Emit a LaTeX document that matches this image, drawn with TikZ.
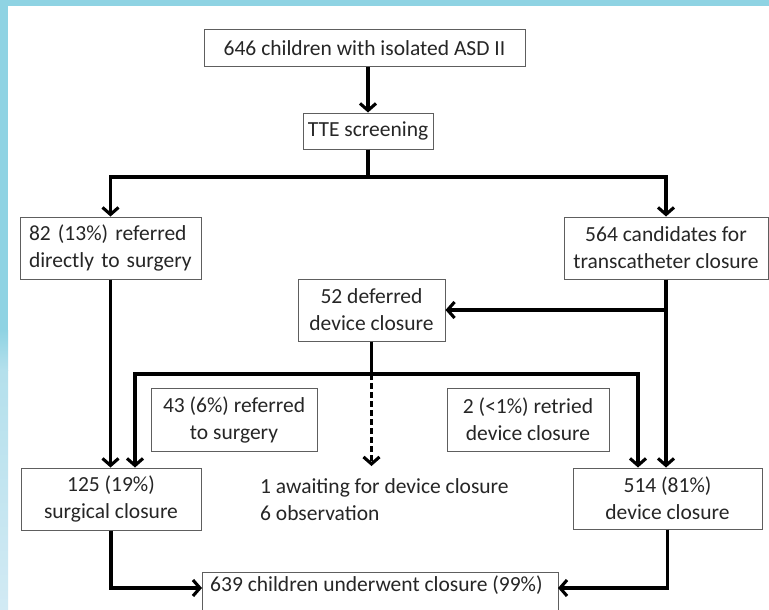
\documentclass[tikz,border=0pt]{standalone}
\usepackage{fontspec}
\setmainfont{Carlito}
\usetikzlibrary{arrows.meta}
\definecolor{cyanA}{HTML}{8FD3E3}
\definecolor{cyanM}{HTML}{B4E0EC}
\definecolor{cyanB}{HTML}{D2EAF4}
\definecolor{boxc}{HTML}{5E5E5E}
\definecolor{txt}{HTML}{262626}
\newcommand\dgfont{\fontsize{21.5}{27}\selectfont}
\begin{document}
\begin{tikzpicture}[x=1pt,y=-1pt,
  box/.style={draw=boxc, line width=1pt, inner sep=0pt, text=txt, align=center, font=\dgfont},
  plain/.style={inner sep=0pt, text=txt, font=\dgfont},
  ln/.style={line width=3.1pt, black},
  arr/.style={ln, -{Straight Barb[length=7pt,width=16pt]}}]
\useasboundingbox (0,0) rectangle (769,610);
% background
\fill[white] (0,0) rectangle (769,610);
\fill[cyanA] (0,0) rectangle (769,6);
\fill[cyanA] (0,0) rectangle (8,330);
\shade[top color=cyanA, bottom color=cyanM] (0,330) rectangle (8,370);
\shade[top color=cyanM, bottom color=cyanB] (0,370) rectangle (8,610);
% nodes
\node[box, minimum width=321, minimum height=37] (start) at (364.5,48.5) {646 children with isolated ASD II};
\node[box, minimum width=130, minimum height=36] (tte) at (368,131) {TTE screening};
\node[box, minimum width=181, minimum height=62, text width=163, align=left] (refd) at (110.5,248) {82 (13\%) referred\\directly to surgery};
\node[box, minimum width=204, minimum height=62] (cand) at (666,248) {564 candidates for\\transcatheter closure};
\node[box, minimum width=147, minimum height=62] (def) at (371.5,310) {52 deferred\\device closure};
\node[box, minimum width=166, minimum height=63] (ref43) at (234,419.5) {43 (6\%) referred\\to surgery};
\node[box, minimum width=162, minimum height=63] (ret) at (528,419.5) {2 (<1\%) retried\\device closure};
\node[box, minimum width=180, minimum height=62] (surg) at (111,499) {125 (19\%)\\surgical closure};
\node[box, minimum width=189, minimum height=61] (dev) at (667.5,498.5) {514 (81\%)\\device closure};
\node[plain, align=left, anchor=west] (await) at (260,500) {1 awaiting for device closure\\6 observation};
\node[plain, anchor=west] (total) at (210,585) {639 children underwent closure (99\%)};
\draw[draw=boxc, line width=1pt] (202,612) -- (202,572) -- (558,572) -- (558,612);
\coordinate (tl) at (202,588);
\coordinate (tr) at (558,588);
% connectors
\coordinate (split) at (tte.south |- 0,177);
\draw[arr] (start.south -| tte.north) -- (tte.north);
\draw[ln] (tte.south) -- (split);
\draw[arr] (split) -| (refd.north);
\draw[arr] (split) -| (cand.north);
\draw[arr] (cand.south) -- (cand.south |- dev.north);
\draw[arr] (cand.south |- def.east) -- (def.east);
\draw[arr] (refd.south) -- (refd.south |- surg.north);
\coordinate (j) at (def.south |- 0,374);
\draw[ln] (def.south) -- (j);
\draw[arr, dash pattern=on 6pt off 3pt] (j) -- (j |- 0,466);
\draw[arr] (j) -| ([xshift=24pt]surg.north);
\draw[arr] (j) -| ([xshift=-29.5pt]dev.north);
\draw[arr] (surg.south) |- (tl);
\draw[arr] (dev.south) |- (tr);
\end{tikzpicture}
\end{document}
